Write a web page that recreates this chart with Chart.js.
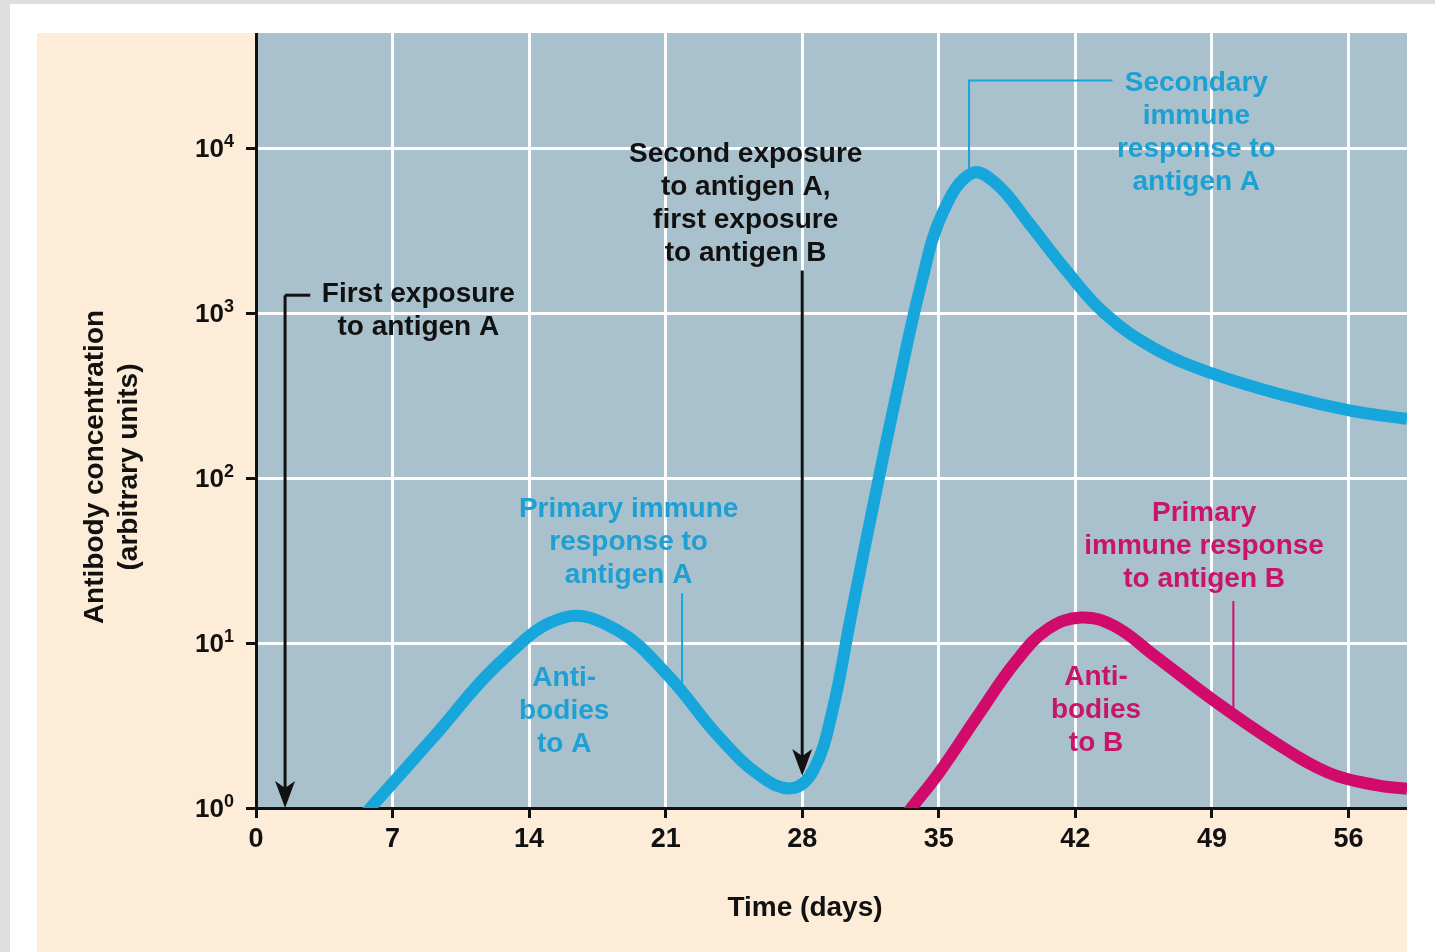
<!DOCTYPE html>
<html>
<head>
<meta charset="utf-8">
<title>Primary and secondary immune response</title>
<script src="https://cdn.jsdelivr.net/npm/chart.js@4/dist/chart.umd.min.js"></script>
<style>
  html, body { margin: 0; padding: 0; }
  body { width: 1435px; height: 952px; background: #dedede; position: relative; overflow: hidden; }
  #sheet { position: absolute; left: 10px; top: 4px; width: 1425px; height: 948px; background: #ffffff; }
  #panel { position: absolute; left: 37px; top: 33px; width: 1370px; height: 919px; background: #fdecd8; }
  canvas { display: block; }
</style>
</head>
<body>
<div id="sheet"></div>
<div id="panel"><canvas id="immuneChart" width="1370" height="919"></canvas></div>
<script>
// days after first exposure, antibody concentration (arbitrary units, log scale)
const daysA = [5.0, 5.86, 9.11, 12.54, 15.8, 18.5, 21.1, 23.67, 25.9, 27.5, 28.6, 29.55,
               30.5, 31.7, 32.9, 34.1, 35.2, 36.7, 38.0, 39.6, 41.5, 43.5, 46.0, 49.0,
               52.8, 56.1, 59.0];
const antibodiesA = [0.78, 1.0, 2.70, 7.71, 14.3, 12.0, 6.40, 2.75, 1.55, 1.32, 1.72, 3.89,
                     14.6, 74.1, 355, 1514, 4074, 7079, 6026, 3548, 1841, 1000, 617, 432,
                     316, 257, 229];

const daysB = [33.0, 33.6, 35.05, 37.0, 38.96, 40.6, 42.3, 44.0, 46.1, 49.0, 52.2, 55.0,
               57.5, 59.0];
const antibodiesB = [0.81, 1.0, 1.66, 3.63, 7.76, 12.2, 14.3, 12.7, 8.32, 4.57, 2.51, 1.63,
                     1.37, 1.31];

const dayTicks = [0, 7, 14, 21, 28, 35, 42, 49, 56];
const concTicks = [1, 10, 100, 1000, 10000];
const concExponents = ["0", "1", "2", "3", "4"];

const BLUE = "#17a6dc";
const BLUE_TEXT = "#1ea0d3";
const MAGENTA = "#d00b6c";
const MAGENTA_TEXT = "#c8146b";
const INK = "#111111";
const PLOT_BG = "#a9c1cd";
const FONT = '"Liberation Sans", Arial, Helvetica, sans-serif';

// callouts, anchored in data units (day, concentration)
const notes = [
  { day: 8.32, conc: 1303, color: INK, lines: ["First exposure", "to antigen A"] },
  { day: 25.1, conc: 9204, color: INK, lines: ["Second exposure", "to antigen A,", "first exposure", "to antigen B"] },
  { day: 48.2, conc: 24774, color: BLUE_TEXT, lines: ["Secondary", "immune", "response to", "antigen A"] },
  { day: 19.1, conc: 64.86, color: BLUE_TEXT, lines: ["Primary immune", "response to", "antigen A"] },
  { day: 15.8, conc: 6.14, color: BLUE_TEXT, lines: ["Anti-", "bodies", "to A"] },
  { day: 48.6, conc: 61.4, color: MAGENTA_TEXT, lines: ["Primary", "immune response", "to antigen B"] },
  { day: 43.06, conc: 6.22, color: MAGENTA_TEXT, lines: ["Anti-", "bodies", "to B"] }
];

function pts(xs, ys) {
  return xs.map((x, i) => ({ x: x, y: ys[i] }));
}

function arrowDown(ctx, x, yFrom, yTip) {
  ctx.strokeStyle = INK;
  ctx.fillStyle = INK;
  ctx.lineWidth = 3;
  ctx.beginPath();
  ctx.moveTo(x, yFrom);
  ctx.lineTo(x, yTip - 18);
  ctx.stroke();
  ctx.beginPath();
  ctx.moveTo(x, yTip);
  ctx.lineTo(x - 10, yTip - 27);
  ctx.lineTo(x, yTip - 20);
  ctx.lineTo(x + 10, yTip - 27);
  ctx.closePath();
  ctx.fill();
}

const plotBackground = {
  id: "plotBackground",
  beforeDraw(chart) {
    const { ctx, chartArea: a } = chart;
    ctx.save();
    ctx.fillStyle = PLOT_BG;
    ctx.fillRect(a.left, a.top, a.right - a.left, a.bottom - a.top);
    ctx.restore();
  }
};

// y tick labels as 10 with a raised exponent
const powerLabels = {
  id: "powerLabels",
  afterDraw(chart) {
    const { ctx, chartArea: a } = chart;
    const y = chart.scales.y;
    ctx.save();
    ctx.fillStyle = INK;
    ctx.textBaseline = "alphabetic";
    ctx.textAlign = "right";
    y.ticks.forEach(t => {
      const i = concTicks.indexOf(t.value);
      if (i < 0) return;
      const yy = y.getPixelForValue(t.value);
      const right = a.left - 22;
      ctx.font = "bold 18px " + FONT;
      const ew = ctx.measureText(concExponents[i]).width;
      ctx.fillText(concExponents[i], right, yy - 1);
      ctx.font = "bold 26px " + FONT;
      ctx.fillText("10", right - ew, yy + 9);
    });
    ctx.restore();
  }
};

const callouts = {
  id: "callouts",
  afterDraw(chart) {
    const { ctx, chartArea: a } = chart;
    const x = chart.scales.x, y = chart.scales.y;
    const px = d => x.getPixelForValue(d);
    const py = v => y.getPixelForValue(v);
    ctx.save();

    // first exposure bracket + arrow
    ctx.strokeStyle = INK;
    ctx.lineWidth = 3;
    ctx.beginPath();
    ctx.moveTo(px(2.78), py(1288));
    ctx.lineTo(px(1.49), py(1288));
    ctx.stroke();
    arrowDown(ctx, px(1.49), py(1288), py(1));

    // second exposure arrow
    arrowDown(ctx, px(28), py(1820), py(1.563));

    // thin leader lines
    ctx.lineWidth = 2;
    ctx.strokeStyle = BLUE;
    ctx.beginPath();
    ctx.moveTo(px(36.55), py(7362));
    ctx.lineTo(px(36.55), py(25823));
    ctx.lineTo(px(43.9), py(25823));
    ctx.stroke();
    ctx.beginPath();
    ctx.moveTo(px(21.84), py(20.09));
    ctx.lineTo(px(21.84), py(5.41));
    ctx.stroke();
    ctx.strokeStyle = MAGENTA;
    ctx.beginPath();
    ctx.moveTo(px(50.1), py(17.99));
    ctx.lineTo(px(50.1), py(3.93));
    ctx.stroke();

    // callout text
    ctx.font = "bold 28px " + FONT;
    ctx.textAlign = "center";
    ctx.textBaseline = "middle";
    notes.forEach(n => {
      ctx.fillStyle = n.color;
      n.lines.forEach((t, i) => ctx.fillText(t, px(n.day), py(n.conc) + i * 33));
    });

    // axis titles
    ctx.fillStyle = INK;
    ctx.fillText("Time (days)", a.left + 549, a.bottom + 100);
    ctx.translate(a.left - 144, a.top + 434);
    ctx.rotate(-Math.PI / 2);
    ctx.fillText("Antibody concentration", 0, -17);
    ctx.fillText("(arbitrary units)", 0, 17);
    ctx.restore();
  }
};

const gridStyle = {
  color: "rgba(255,255,255,0.95)",
  lineWidth: 3,
  drawTicks: true,
  tickLength: 10,
  tickWidth: 3,
  tickColor: INK
};

new Chart(document.getElementById("immuneChart"), {
  type: "line",
  data: {
    datasets: [
      {
        label: "Antibodies to A",
        data: pts(daysA, antibodiesA),
        borderColor: BLUE,
        borderWidth: 12,
        pointRadius: 0,
        tension: 0.4,
        clip: 0
      },
      {
        label: "Antibodies to B",
        data: pts(daysB, antibodiesB),
        borderColor: MAGENTA,
        borderWidth: 12,
        pointRadius: 0,
        tension: 0.4,
        clip: 0
      }
    ]
  },
  options: {
    responsive: false,
    animation: false,
    events: [],
    layout: { padding: 0 },
    plugins: {
      legend: { display: false },
      tooltip: { enabled: false }
    },
    scales: {
      x: {
        type: "linear",
        min: 0,
        max: 59,
        afterBuildTicks(s) { s.ticks = dayTicks.map(v => ({ value: v })); },
        afterFit(s) { s.height = 144; s.paddingLeft = 0; s.paddingRight = 0; },
        ticks: {
          color: INK,
          padding: 5,
          maxRotation: 0,
          font: { family: FONT, size: 27, weight: "bold" }
        },
        grid: gridStyle,
        border: { color: INK, width: 3 }
      },
      y: {
        type: "logarithmic",
        min: 1,
        max: 50119,
        afterBuildTicks(s) { s.ticks = concTicks.map(v => ({ value: v })); },
        afterFit(s) { s.width = 219; s.paddingTop = 0; s.paddingBottom = 0; },
        ticks: { display: false },
        grid: gridStyle,
        border: { color: INK, width: 3 }
      }
    }
  },
  plugins: [plotBackground, powerLabels, callouts]
});
</script>
</body>
</html>
